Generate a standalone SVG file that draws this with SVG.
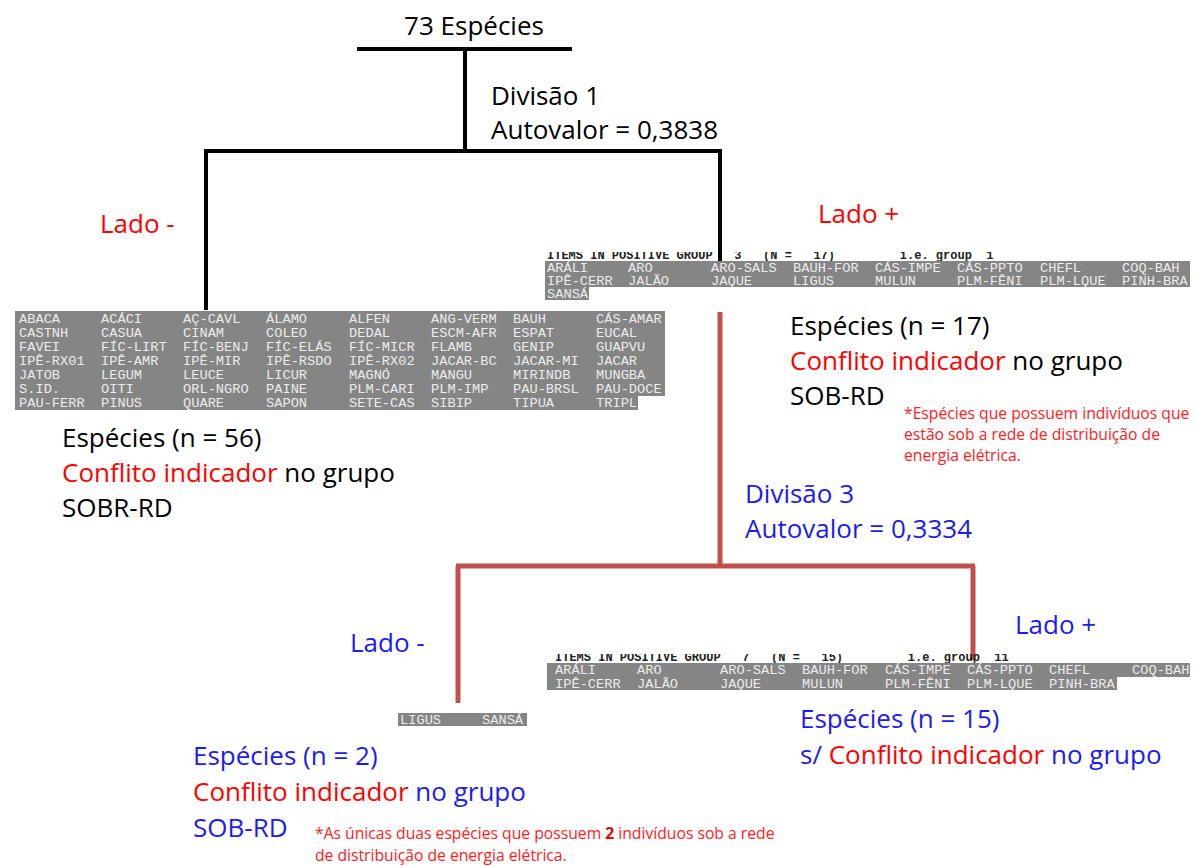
<svg xmlns="http://www.w3.org/2000/svg" width="1195" height="866" viewBox="0 0 1195 866">
<style>
.t{font-family:"Open Sans","Noto Sans","Liberation Sans",sans-serif;font-size:26px;fill:#000}
.r{fill:#ff0000}
.b{fill:#1c1cf0}
.note{font-family:"Open Sans","Noto Sans","Liberation Sans",sans-serif;font-size:15.7px;fill:#ff2020}
.tab{fill:#858585}
.m{font-family:"Liberation Mono","DejaVu Sans Mono",monospace;font-size:13.7px;fill:#ececec}
.hdr{font-family:"Liberation Mono","DejaVu Sans Mono",monospace;font-size:12px;fill:#222;font-weight:bold}
.blk{stroke:#000;stroke-width:4;fill:none}
.red{stroke:#c0504d;stroke-width:5;fill:none}
</style>
<defs>
<clipPath id="c1"><rect x="530" y="252" width="665" height="9"/></clipPath>
<clipPath id="c2"><rect x="530" y="654" width="665" height="9"/></clipPath>
</defs>
<rect width="1195" height="866" fill="#fff"/>

<g id="connectors">
<path class="blk" d="M357 49H572M465 49V151M204 151H722M206 151V310M720 151V262"/>
<path class="red" d="M720 312V566M456 566H975M458 566V703M973 566V660"/>
</g>

<g id="root">
<text class="t" x="474" y="35" text-anchor="middle">73 Espécies</text>
</g>

<g id="div1">
<text class="t" x="491" y="105">Divisão 1</text>
<text class="t" x="491" y="139">Autovalor = 0,3838</text>
</g>

<g id="lado-neg-1"><text class="t r" x="100" y="233">Lado -</text></g>
<g id="lado-pos-1"><text class="t r" x="818" y="223">Lado +</text></g>

<g id="table-left">
<rect class="tab" x="15" y="311" width="650" height="85"/>
<rect class="tab" x="15" y="396" width="623" height="14"/>
<text class="m" y="323"><tspan x="19">ABACA</tspan><tspan x="101">ACÁCI</tspan><tspan x="183">AÇ-CAVL</tspan><tspan x="266">ÁLAMO</tspan><tspan x="349">ALFEN</tspan><tspan x="431">ANG-VERM</tspan><tspan x="513">BAUH</tspan><tspan x="596">CÁS-AMAR</tspan></text>
<text class="m" y="337"><tspan x="19">CASTNH</tspan><tspan x="101">CASUA</tspan><tspan x="183">CINAM</tspan><tspan x="266">COLEO</tspan><tspan x="349">DEDAL</tspan><tspan x="431">ESCM-AFR</tspan><tspan x="513">ESPAT</tspan><tspan x="596">EUCAL</tspan></text>
<text class="m" y="351"><tspan x="19">FAVEI</tspan><tspan x="101">FÍC-LIRT</tspan><tspan x="183">FÍC-BENJ</tspan><tspan x="266">FÍC-ELÁS</tspan><tspan x="349">FÍC-MICR</tspan><tspan x="431">FLAMB</tspan><tspan x="513">GENIP</tspan><tspan x="596">GUAPVU</tspan></text>
<text class="m" y="365"><tspan x="19">IPÊ-RX01</tspan><tspan x="101">IPÊ-AMR</tspan><tspan x="183">IPÊ-MIR</tspan><tspan x="266">IPÊ-RSDO</tspan><tspan x="349">IPÊ-RX02</tspan><tspan x="431">JACAR-BC</tspan><tspan x="513">JACAR-MI</tspan><tspan x="596">JACAR</tspan></text>
<text class="m" y="379"><tspan x="19">JATOB</tspan><tspan x="101">LEGUM</tspan><tspan x="183">LEUCE</tspan><tspan x="266">LICUR</tspan><tspan x="349">MAGNÓ</tspan><tspan x="431">MANGU</tspan><tspan x="513">MIRINDB</tspan><tspan x="596">MUNGBA</tspan></text>
<text class="m" y="393"><tspan x="19">S.ID.</tspan><tspan x="101">OITI</tspan><tspan x="183">ORL-NGRO</tspan><tspan x="266">PAINE</tspan><tspan x="349">PLM-CARI</tspan><tspan x="431">PLM-IMP</tspan><tspan x="513">PAU-BRSL</tspan><tspan x="596">PAU-DOCE</tspan></text>
<text class="m" y="407"><tspan x="19">PAU-FERR</tspan><tspan x="101">PINUS</tspan><tspan x="183">QUARE</tspan><tspan x="266">SAPON</tspan><tspan x="349">SETE-CAS</tspan><tspan x="431">SIBIP</tspan><tspan x="513">TIPUA</tspan><tspan x="596">TRIPL</tspan></text>
</g>

<g id="left-group">
<text class="t" x="62" y="447">Espécies (n = 56)</text>
<text class="t" x="62" y="482"><tspan class="r">Conflito indicador</tspan> no grupo</text>
<text class="t" x="62" y="517">SOBR-RD</text>
</g>

<g id="table-right">
<text class="hdr" x="547" y="259" clip-path="url(#c1)" xml:space="preserve">ITEMS IN POSITIVE GROUP   3   (N =   17)         i.e. group  1</text>
<rect class="tab" x="545" y="261" width="645" height="26"/>
<rect class="tab" x="545" y="287" width="44" height="13"/>
<text class="m" y="272"><tspan x="547">ARÁLI</tspan><tspan x="628">ARO</tspan><tspan x="711">ARO-SALS</tspan><tspan x="793">BAUH-FOR</tspan><tspan x="875">CÁS-IMPE</tspan><tspan x="957">CÁS-PPTO</tspan><tspan x="1040">CHEFL</tspan><tspan x="1122">COQ-BAH</tspan></text>
<text class="m" y="285"><tspan x="547">IPÊ-CERR</tspan><tspan x="628">JALÃO</tspan><tspan x="711">JAQUE</tspan><tspan x="793">LIGUS</tspan><tspan x="875">MULUN</tspan><tspan x="957">PLM-FÊNI</tspan><tspan x="1040">PLM-LQUE</tspan><tspan x="1122">PINH-BRA</tspan></text>
<text class="m" x="547" y="298">SANSÁ</text>
</g>

<g id="right-group">
<text class="t" x="790" y="335">Espécies (n = 17)</text>
<text class="t" x="790" y="370"><tspan class="r">Conflito indicador</tspan> no grupo</text>
<text class="t" x="790" y="405">SOB-RD</text>
<text class="note" x="904" y="419">*Espécies que possuem indivíduos que</text>
<text class="note" x="904" y="440">estão sob a rede de distribuição de</text>
<text class="note" x="904" y="461">energia elétrica.</text>
</g>

<g id="div3">
<text class="t b" x="745" y="503">Divisão 3</text>
<text class="t b" x="745" y="538">Autovalor = 0,3334</text>
</g>

<g id="lado-neg-2"><text class="t b" x="350" y="652">Lado -</text></g>
<g id="lado-pos-2"><text class="t b" x="1015" y="634">Lado +</text></g>

<g id="table-br">
<text class="hdr" x="555" y="661" clip-path="url(#c2)" xml:space="preserve">ITEMS IN POSITIVE GROUP   7   (N =   15)         i.e. group  11</text>
<rect class="tab" x="547" y="663" width="643" height="14"/>
<rect class="tab" x="547" y="677" width="570" height="13"/>
<text class="m" y="674"><tspan x="555">ARÁLI</tspan><tspan x="637">ARO</tspan><tspan x="720">ARO-SALS</tspan><tspan x="802">BAUH-FOR</tspan><tspan x="885">CÁS-IMPE</tspan><tspan x="967">CÁS-PPTO</tspan><tspan x="1049">CHEFL</tspan><tspan x="1132">COQ-BAH</tspan></text>
<text class="m" y="688"><tspan x="555">IPÊ-CERR</tspan><tspan x="637">JALÃO</tspan><tspan x="720">JAQUE</tspan><tspan x="802">MULUN</tspan><tspan x="885">PLM-FÊNI</tspan><tspan x="967">PLM-LQUE</tspan><tspan x="1049">PINH-BRA</tspan></text>
</g>

<g id="br-group">
<text class="t b" x="800" y="728">Espécies (n = 15)</text>
<text class="t b" x="800" y="764">s/ <tspan class="r">Conflito indicador</tspan> no grupo</text>
</g>

<g id="table-bl">
<rect class="tab" x="398" y="713" width="129" height="13"/>
<text class="m" y="724"><tspan x="400">LIGUS</tspan><tspan x="482">SANSÁ</tspan></text>
</g>

<g id="bl-group">
<text class="t b" x="193" y="765">Espécies (n = 2)</text>
<text class="t b" x="193" y="801"><tspan class="r">Conflito indicador</tspan> no grupo</text>
<text class="t b" x="193" y="837">SOB-RD</text>
<text class="note" x="315" y="839">*As únicas duas espécies que possuem <tspan font-weight="bold" fill="#e00000">2</tspan> indivíduos sob a rede</text>
<text class="note" x="315" y="861">de distribuição de energia elétrica.</text>
</g>
</svg>
